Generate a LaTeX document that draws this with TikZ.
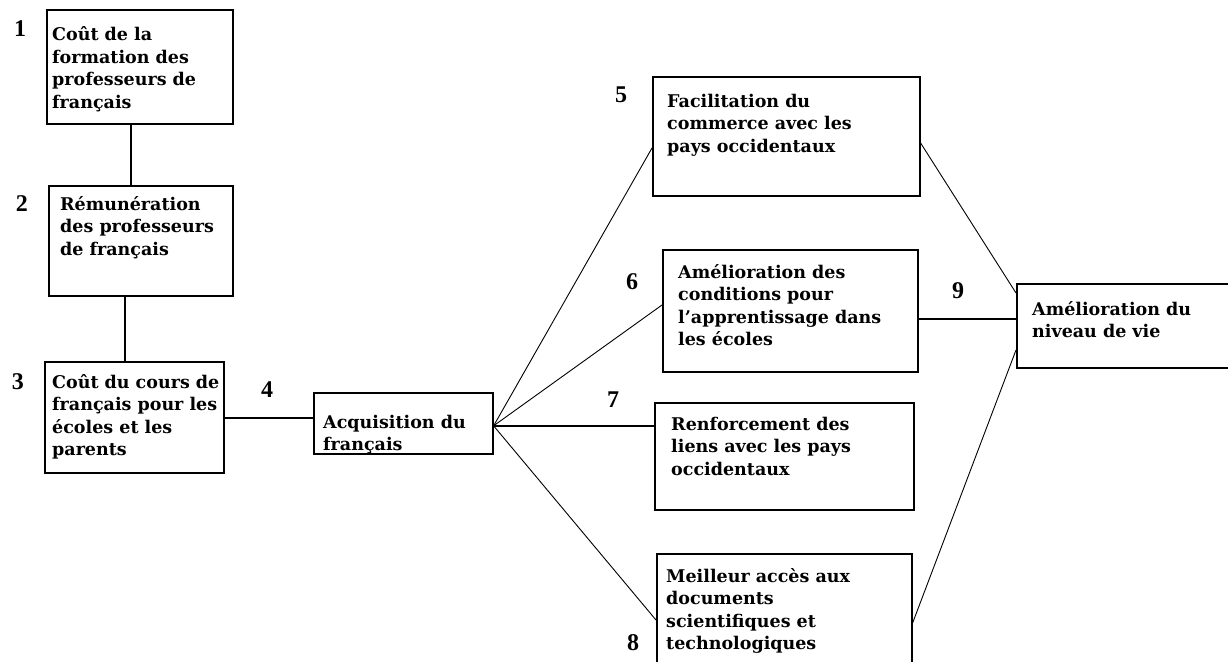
\documentclass[tikz,border=0pt]{standalone}
\usepackage{fontspec}
\setmainfont{DejaVu Serif}
\newfontfamily\numfont{Liberation Serif}
\usetikzlibrary{calc}
\newcommand\lns[1]{\begin{tabular}[t]{@{}l@{}}#1\end{tabular}}
\begin{document}
\begin{tikzpicture}[x=1pt,y=-1pt,
  box/.style={draw, line width=1.6pt, rectangle, inner sep=0pt, anchor=north west},
  txt/.style={anchor=base west, inner sep=0pt, font=\fontsize{17.5}{22.5}\selectfont\bfseries},
  num/.style={inner sep=0pt, font=\numfont\fontsize{24}{24}\selectfont\bfseries},
  link/.style={line width=1.6pt},
  diag/.style={line width=0.9pt}]
\useasboundingbox (0,0) rectangle (1228,661);
\fill[white] (0,0) rectangle (1228,661);
\clip (0,0) rectangle (1228,661);

% boxes
\node[box, minimum width=186pt, minimum height=114pt] (b1) at (46,9) {};
\node[box, minimum width=184pt, minimum height=110pt] (b2) at (48,185) {};
\node[box, minimum width=179pt, minimum height=111pt] (b3) at (44,361) {};
\node[box, minimum width=179pt, minimum height=61pt]  (b4) at (313,392) {};
\node[box, minimum width=267pt, minimum height=119pt] (b5) at (652,76) {};
\node[box, minimum width=255pt, minimum height=122pt] (b6) at (662,249) {};
\node[box, minimum width=259pt, minimum height=107pt] (b7) at (654,402) {};
\node[box, minimum width=255pt, minimum height=130pt] (b8) at (656,553) {};
\node[box, minimum width=224pt, minimum height=84pt]  (b9) at (1016,283) {};

% texts
\node[txt] (t1) at (52,41) {\lns{Coût de la\\formation des\\professeurs de\\français}};
\node[txt] (t2) at (60,210) {\lns{Rémunération\\des professeurs\\de français}};
\node[txt] (t3) at (52,388) {\lns{Coût du cours de\\français pour les\\écoles et les\\parents}};
\node[txt] (t4) at (323,428) {\lns{Acquisition du\\français}};
\node[txt] (t5) at (667,107) {\lns{Facilitation du\\commerce avec les\\pays occidentaux}};
\node[txt] (t6) at (678,278) {\lns{Amélioration des\\conditions pour\\l\symbol{39}apprentissage dans\\les écoles}};
\node[txt] (t7) at (671,430) {\lns{Renforcement des\\liens avec les pays\\occidentaux}};
\node[txt] (t8) at (666,582) {\lns{Meilleur accès aux\\documents\\scientifiques et\\technologiques}};
\node[txt] (t9) at (1032,315) {\lns{Amélioration du\\niveau de vie}};

% numbers
\node[num] (n1) at (20,29) {1};
\node[num] (n2) at (22,204) {2};
\node[num] (n3) at (18,382) {3};
\node[num] (n4) at (267,390) {4};
\node[num] (n5) at (621,95) {5};
\node[num] (n6) at (632,282) {6};
\node[num] (n7) at (613,400) {7};
\node[num] (n8) at (633,643) {8};
\node[num] (n9) at (958,291) {9};

% connectors
\draw[link] ($(b1.south)+(-9,0)$) coordinate (p12) -- (p12 |- b2.north);
\draw[link] ($(b2.south)+(-16,0)$) coordinate (p23) -- (p23 |- b3.north);
\draw[link] ($(b3.east)+(0,0.5)$) coordinate (p34) -- (p34 -| b4.west);
\coordinate (h) at ($(b4.east)+(0,2.5)$);
\draw[diag] (h) -- ($(b5.north west)+(0,72)$);
\draw[diag] (h) -- ($(b6.north west)+(0,56)$);
\draw[link] (h) -- (h -| b7.west);
\draw[diag] (h) -- ($(b8.north west)+(0,67)$);
\draw[diag] ($(b5.north east)+(0,67)$) -- ($(b9.north west)+(0,10)$);
\draw[link] ($(b6.north east)+(0,70)$) coordinate (r6) -- (r6 -| b9.west);
\draw[diag] ($(b8.north east)+(0,70)$) -- ($(b9.north west)+(0,67)$);
\end{tikzpicture}
\end{document}
